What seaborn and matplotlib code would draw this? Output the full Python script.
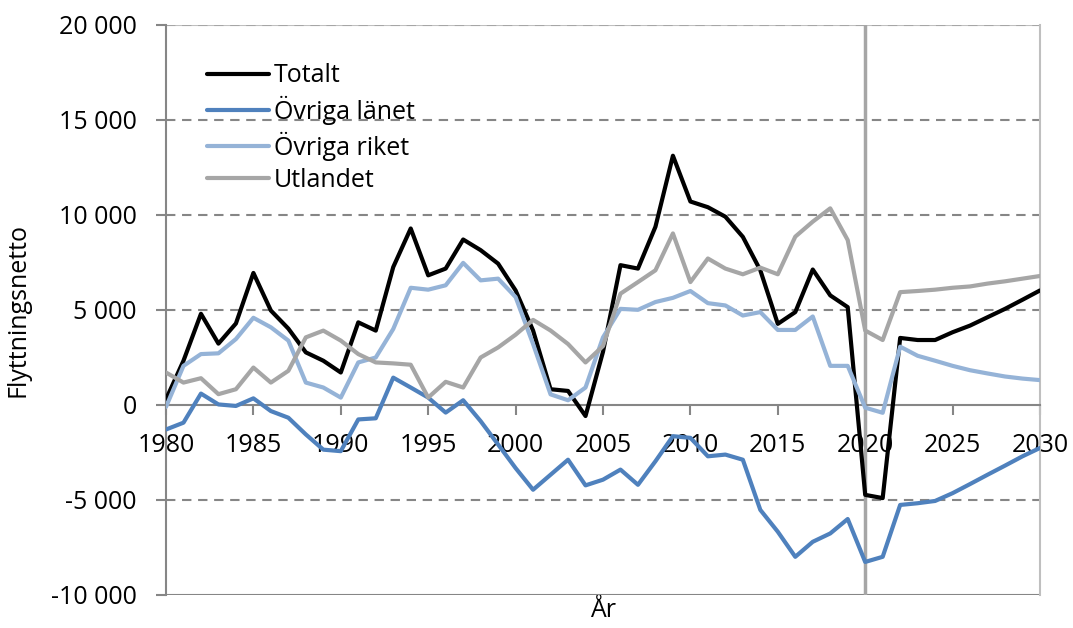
import numpy as np
import pandas as pd
import seaborn as sns
import matplotlib
matplotlib.use("Agg")
import matplotlib.pyplot as plt
from matplotlib.ticker import FuncFormatter, MultipleLocator
from matplotlib.lines import Line2D

years = list(range(1980, 2031))

totalt = [300, 2330, 4800, 3230, 4290, 6950, 4970, 4020, 2770, 2330,
          1710, 4350, 3915, 7260, 9290, 6825, 7180, 8710, 8150, 7440,
          6030, 3920, 830, 740, -580, 2800, 7360, 7180, 9380, 13120,
          10710, 10410, 9910, 8850, 7090, 4270, 4890, 7130, 5770, 5150,
          -4730, -4900, 3530, 3420, 3420, 3830, 4180, 4620, 5060, 5540,
          6030]

ovriga_lanet = [-1290, -930, 600, 30, -50, 350, -320, -670, -1550, -2350,
                -2430, -760, -700, 1440, 920, 390, -400, 250, -850, -2080,
                -3320, -4460, -3670, -2880, -4230, -3930, -3400, -4200, -2960, -1640,
                -1730, -2700, -2610, -2880, -5520, -6670, -7990, -7200, -6760, -6000,
                -8260, -7990, -5260, -5170, -5050, -4640, -4160, -3670, -3190, -2700,
                -2260]

ovriga_riket = [-100, 2060, 2680, 2720, 3470, 4590, 4090, 3390, 1180, 920,
                390, 2240, 2500, 4000, 6170, 6070, 6300, 7480, 6560, 6650,
                5680, 3210, 560, 250, 920, 3560, 5060, 5010, 5420, 5640,
                6000, 5360, 5240, 4710, 4890, 3950, 3950, 4660, 2060, 2060,
                -140, -410, 3070, 2590, 2330, 2060, 1830, 1660, 1500, 1390,
                1310]

utlandet = [1710, 1180, 1410, 570, 830, 1970, 1180, 1800, 3560, 3915,
            3390, 2680, 2240, 2190, 2120, 390, 1220, 920, 2500, 3030,
            3700, 4480, 3920, 3210, 2240, 3100, 5860, 6470, 7090, 9030,
            6470, 7710, 7180, 6880, 7230, 6880, 8860, 9650, 10350, 8680,
            3920, 3420, 5940, 6000, 6070, 6170, 6240, 6390, 6510, 6650,
            6790]

series_names = ["Totalt", "Övriga länet", "Övriga riket", "Utlandet"]
series_colors = ["#000000", "#4F81BD", "#95B3D7", "#A6A6A6"]

df = pd.DataFrame({
    "År": years * 4,
    "Flyttningsnetto": totalt + ovriga_lanet + ovriga_riket + utlandet,
    "Serie": sum([[n] * len(years) for n in series_names], []),
})

sns.set_style("white")
plt.rcParams["font.family"] = ["Open Sans", "DejaVu Sans"]
plt.rcParams["text.color"] = "black"
plt.rcParams["axes.labelcolor"] = "black"
plt.rcParams["xtick.labelcolor"] = "black"
plt.rcParams["ytick.labelcolor"] = "black"

FS = 18

fig = plt.figure(figsize=(10.73, 6.28), dpi=100)
ax = fig.add_axes([166 / 1073, 1 - 595 / 628, 874 / 1073, 570 / 628])

# grid
for v in [-5000, 5000, 10000, 15000]:
    ax.axhline(v, color="#868686", lw=1.5, ls=(0, (4.5, 3.2)), zorder=1)
ax.axhline(20000, color="#BFBFBF", lw=1.5, zorder=1)
ax.axhline(20000, color="#A6A6A6", lw=1.5, ls=(0, (4.5, 3.2)), zorder=1)
ax.axhline(-10000, color="#868686", lw=1.5, zorder=1)

sns.lineplot(data=df, x="År", y="Flyttningsnetto", hue="Serie",
             hue_order=series_names, palette=series_colors, lw=3,
             ax=ax, legend=False, zorder=3)

ax.axvline(2020, color="#A6A6A6", lw=2.5, zorder=2)

ax.set_xlim(1980, 2030)
ax.set_ylim(-10000, 20000)
ax.xaxis.set_major_locator(MultipleLocator(5))
ax.yaxis.set_major_locator(MultipleLocator(5000))
ax.yaxis.set_major_formatter(FuncFormatter(lambda v, p: f"{int(v):,}".replace(",", " ")))

ax.spines["bottom"].set_position(("data", 0))
ax.spines["bottom"].set_color("#868686")
ax.spines["bottom"].set_linewidth(1.5)
ax.spines["left"].set_color("#868686")
ax.spines["left"].set_linewidth(1.5)
ax.spines["top"].set_visible(False)
ax.spines["right"].set_color("#BFBFBF")
ax.spines["right"].set_linewidth(1.5)

ax.tick_params(axis="x", direction="out", length=7, width=1.5, color="#868686",
               labelsize=FS, pad=13, bottom=True)
ax.tick_params(axis="y", direction="out", length=7, width=1.5, color="#868686",
               labelsize=FS, pad=14, left=True)

ax.set_xlabel("År", fontsize=FS)
ax.set_ylabel("Flyttningsnetto", fontsize=FS)
ax.xaxis.set_label_coords(0.5, -0.005)
ax.yaxis.set_label_coords(-0.155, 0.5)

handles = [Line2D([0], [0], color=c, lw=3) for c in series_colors]
ax.legend(handles, series_names, loc="upper left", bbox_to_anchor=(0.035, 0.95),
          frameon=False, fontsize=FS, handlelength=2.5, handletextpad=0.2,
          labelspacing=0.28, borderaxespad=0)

fig.savefig("out.png", dpi=100)
